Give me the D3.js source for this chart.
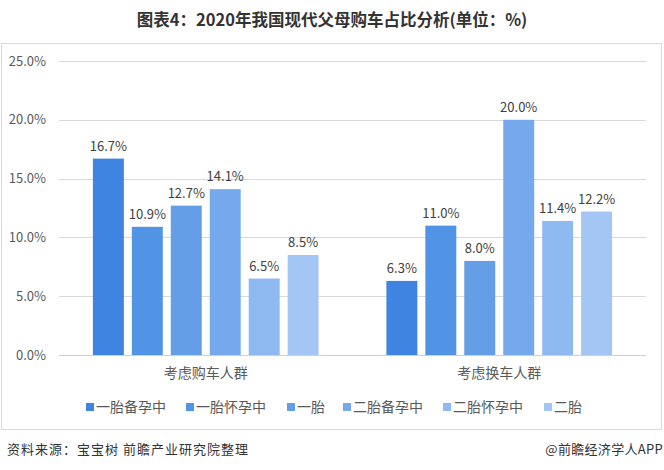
<!DOCTYPE html>
<html><head><meta charset="utf-8">
<script src="https://cdn.jsdelivr.net/npm/d3@7"></script>
<style>
html,body{margin:0;padding:0;background:#fff;}
svg{display:block;}
text{font-family:"Noto Sans CJK SC","Noto Sans",sans-serif;}
</style></head>
<body>
<svg id="chart" width="664" height="470"></svg>
<script>
const title = "图表4：2020年我国现代父母购车占比分析(单位：%)";
const categories = ["考虑购车人群", "考虑换车人群"];
const seriesNames = ["一胎备孕中", "一胎怀孕中", "一胎", "二胎备孕中", "二胎怀孕中", "二胎"];
const seriesColors = ["#4084e1", "#5193e4", "#639ee7", "#75a9ec", "#8fb9f1", "#a3c6f4"];
const values = [
  [16.7, 6.3],
  [10.9, 11.0],
  [12.7, 8.0],
  [14.1, 20.0],
  [6.5, 11.4],
  [8.5, 12.2]
];
const yTicks = [0, 5, 10, 15, 20, 25];
const source = "资料来源：宝宝树 前瞻产业研究院整理";
const credit = "@前瞻经济学人APP";

const svg = d3.select("#chart");

// title
svg.append("text").attr("x", 332).attr("y", 26).attr("text-anchor", "middle")
  .attr("font-size", 16.5).attr("font-weight", "bold").attr("fill", "#333")
  .text(title);

// frame
svg.append("rect").attr("x", 1.5).attr("y", 43.5).attr("width", 660).attr("height", 386)
  .attr("fill", "none").attr("stroke", "#d9d9d9").attr("stroke-width", 1);

const y = d3.scaleLinear().domain([0, 25]).range([355, 61]);
const x0 = d3.scaleBand().domain(categories).range([59, 646]).paddingInner(0).paddingOuter(0);
const x1 = d3.scaleBand().domain(seriesNames).range([0, x0.bandwidth()])
  .paddingInner(8/39).paddingOuter(0.87);

// gridlines
svg.append("g").selectAll("line").data(yTicks).join("line")
  .attr("x1", 59).attr("x2", 646)
  .attr("y1", d => Math.round(y(d)) + 0.5).attr("y2", d => Math.round(y(d)) + 0.5)
  .attr("stroke", "#d9d9d9").attr("stroke-width", 1);

// y tick labels
svg.append("g").selectAll("text").data(yTicks).join("text")
  .attr("x", 46).attr("y", d => y(d)).attr("dy", "0.36em")
  .attr("text-anchor", "end").attr("font-size", 13).attr("fill", "#595959")
  .text(d => d.toFixed(1) + "%");

// bars
const groups = svg.append("g").selectAll("g").data(categories).join("g")
  .attr("transform", c => `translate(${x0(c)},0)`);

groups.each(function(c, ci) {
  const g = d3.select(this);
  const data = seriesNames.map((s, si) => ({s, si, v: values[si][ci]}));
  g.selectAll("rect").data(data).join("rect")
    .attr("x", d => x1(d.s)).attr("width", x1.bandwidth())
    .attr("y", d => y(d.v)).attr("height", d => y(0) - y(d.v))
    .attr("fill", d => seriesColors[d.si]);
  g.selectAll("text").data(data).join("text")
    .attr("x", d => x1(d.s) + x1.bandwidth() / 2).attr("y", d => y(d.v) - 8)
    .attr("text-anchor", "middle").attr("font-size", 13).attr("fill", "#404040")
    .text(d => d.v.toFixed(1) + "%");
});

// axis line
svg.append("line").attr("x1", 59).attr("x2", 646).attr("y1", 355.5).attr("y2", 355.5)
  .attr("stroke", "#d0d0d0").attr("stroke-width", 1);

// category labels
svg.append("g").selectAll("text").data(categories).join("text")
  .attr("x", c => x0(c) + x0.bandwidth() / 2).attr("y", 378)
  .attr("text-anchor", "middle").attr("font-size", 14).attr("fill", "#595959")
  .text(c => c);

// legend
const legendX = [86, 186, 287, 343, 443, 544];
const lg = svg.append("g").selectAll("g").data(seriesNames).join("g")
  .attr("transform", (d, i) => `translate(${legendX[i]},0)`);
lg.append("rect").attr("x", 0).attr("y", 403).attr("width", 8).attr("height", 8)
  .attr("fill", (d, i) => seriesColors[i]);
lg.append("text").attr("x", 10).attr("y", 407).attr("dy", "0.36em")
  .attr("font-size", 14).attr("fill", "#595959").text(d => d);

// footer
svg.append("text").attr("x", 7).attr("y", 449).attr("dy", "0.36em")
  .attr("font-size", 13).attr("letter-spacing", 1).attr("fill", "#333").text(source);
svg.append("text").attr("x", 663).attr("y", 449).attr("dy", "0.36em")
  .attr("text-anchor", "end").attr("font-size", 13).attr("letter-spacing", 0.3).attr("fill", "#333").text(credit);
</script>
</body></html>
